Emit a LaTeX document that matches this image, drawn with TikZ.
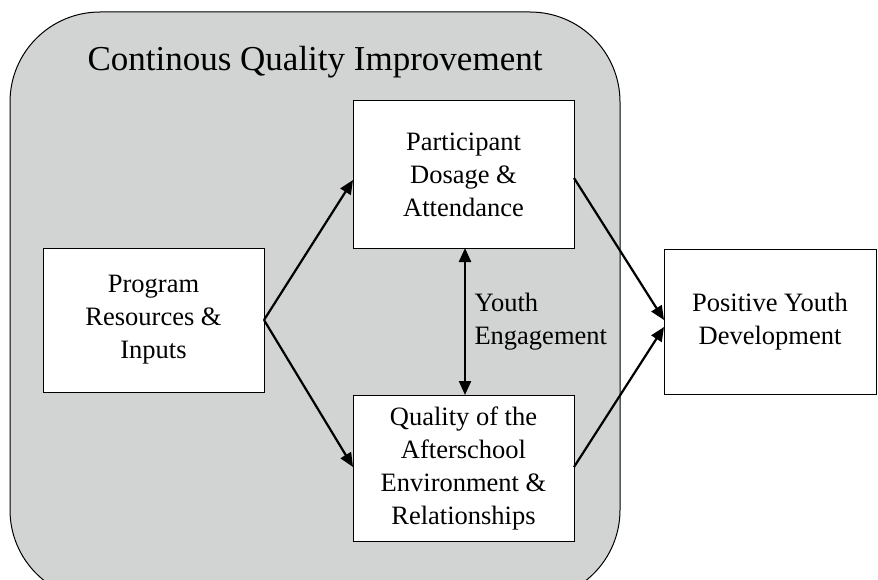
\documentclass[tikz,border=0pt]{standalone}
\usepackage{fontspec}
\setmainfont{Liberation Serif}
\usetikzlibrary{arrows.meta}
\begin{document}
\begin{tikzpicture}[x=1pt,y=-1pt,
  box/.style={draw=black,line width=1pt,fill=white,align=center,font=\fontsize{26.5}{33}\selectfont},
  arr/.style={line width=2.2pt,-{Triangle[length=14pt,width=12pt]}},
  darr/.style={line width=2.2pt,{Triangle[length=14pt,width=12pt]}-{Triangle[length=14pt,width=12pt]}}]
\useasboundingbox (0,0) rectangle (878,580);
\begin{scope}
\clip (0,0) rectangle (878,580);
\draw[fill={rgb,255:red,210;green,211;blue,211},line width=1pt,rounded corners=90pt] (10,12) rectangle (620,600);
\end{scope}
\node[font=\fontsize{35}{40}\selectfont] (title) at (315,62) {Continous Quality Improvement};
\node[box,minimum width=221pt,minimum height=144pt] (prog) at (153.5,320) {Program\\Resources \&\\Inputs};
\node[box,minimum width=221pt,minimum height=147pt] (part) at (463.5,174.5) {Participant\\Dosage \&\\Attendance};
\node[box,minimum width=221pt,minimum height=146pt] (qual) at (463.5,468) {Quality of the\\Afterschool\\Environment \&\\Relationships};
\node[box,minimum width=212pt,minimum height=145pt] (pos) at (770,321.5) {Positive Youth\\Development};
\coordinate (pa) at (264,320);
\coordinate (pin) at (353,180);
\coordinate (qin) at (353,467);
\coordinate (pout) at (574,178);
\coordinate (qout) at (574,467);
\coordinate (posa) at (664,320);
\coordinate (posb) at (664,327);
\coordinate (dt) at (465,248);
\coordinate (db) at (465,395);
\draw[arr] (pa) -- (pin);
\draw[arr] (pa) -- (qin);
\draw[arr] (pout) -- (posa);
\draw[arr] (qout) -- (posb);
\draw[darr] (dt) -- (db);
\node[anchor=west,align=left,font=\fontsize{26.5}{33}\selectfont] (eng) at (471,322) {Youth\\Engagement};
\end{tikzpicture}
\end{document}
